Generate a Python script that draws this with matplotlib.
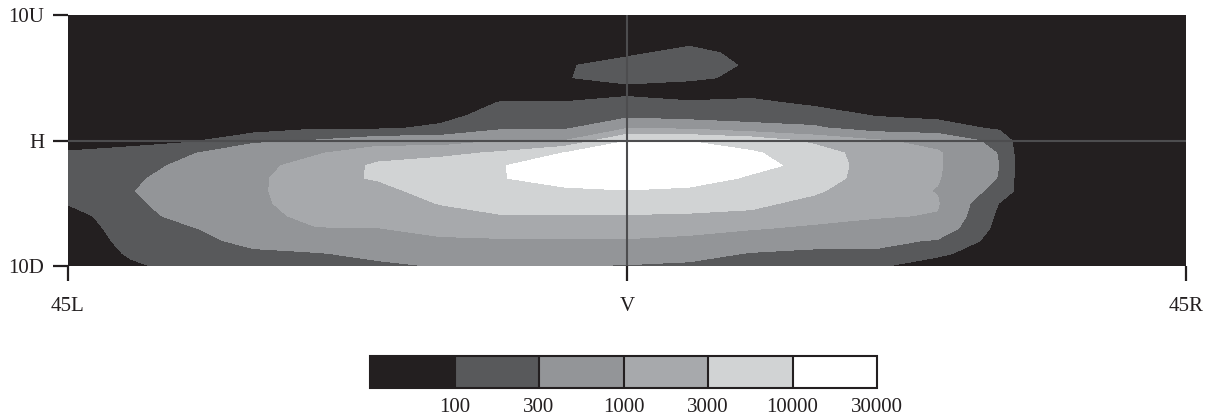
import numpy as np
import matplotlib
matplotlib.use('Agg')
from matplotlib import pyplot as plt

# measuring screen grid, degrees (left/right, up/down)
h_deg = [-45, -40, -35, -30, -25, -20, -15, -10, -5, 0, 5, 10, 15, 20, 25, 30, 35, 40, 45]
v_deg = [10, 9, 8, 7, 6, 5, 4, 3, 2, 1, 0, -1, -2, -3, -4, -5, -6, -7, -8, -9, -10]

# log10 of illuminance, one row per v_deg
log_lux = np.array([
    [1.65, 1.65, 1.65, 1.65, 1.65, 1.65, 1.65, 1.65, 1.65, 1.65, 1.65, 1.65, 1.65, 1.65, 1.65, 1.65, 1.65, 1.65, 1.65],
    [1.65, 1.65, 1.65, 1.65, 1.65, 1.65, 1.65, 1.65, 1.65, 1.70, 1.75, 1.70, 1.65, 1.65, 1.65, 1.65, 1.65, 1.65, 1.65],
    [1.65, 1.65, 1.65, 1.65, 1.65, 1.65, 1.65, 1.65, 1.70, 1.75, 1.85, 1.75, 1.70, 1.68, 1.65, 1.65, 1.65, 1.65, 1.65],
    [1.65, 1.65, 1.65, 1.65, 1.65, 1.65, 1.65, 1.68, 1.80, 1.90, 2.15, 1.85, 1.75, 1.70, 1.68, 1.65, 1.65, 1.65, 1.65],
    [1.65, 1.65, 1.65, 1.65, 1.65, 1.65, 1.68, 1.70, 1.95, 2.20, 2.25, 1.93, 1.78, 1.73, 1.70, 1.68, 1.65, 1.65, 1.65],
    [1.65, 1.65, 1.65, 1.65, 1.65, 1.65, 1.70, 1.75, 1.97, 2.20, 2.08, 1.90, 1.80, 1.75, 1.73, 1.70, 1.65, 1.65, 1.65],
    [1.65, 1.65, 1.65, 1.65, 1.65, 1.65, 1.73, 1.80, 1.90, 1.80, 1.75, 1.85, 1.83, 1.78, 1.75, 1.73, 1.65, 1.65, 1.65],
    [1.65, 1.65, 1.65, 1.65, 1.65, 1.65, 1.75, 2.03, 2.01, 2.20, 2.05, 2.08, 1.93, 1.85, 1.80, 1.75, 1.65, 1.65, 1.65],
    [1.65, 1.65, 1.65, 1.65, 1.75, 1.75, 1.85, 2.20, 2.20, 2.35, 2.25, 2.25, 2.18, 1.98, 1.90, 1.80, 1.65, 1.65, 1.65],
    [1.65, 1.70, 1.75, 1.75, 1.95, 1.93, 2.08, 2.40, 2.40, 2.95, 2.90, 2.65, 2.55, 2.23, 2.18, 1.93, 1.65, 1.65, 1.65],
    [1.75, 1.90, 1.93, 2.38, 2.50, 2.75, 2.75, 3.00, 3.00, 3.98, 3.98, 3.80, 3.35, 3.05, 2.85, 2.30, 0.75, 1.65, 1.65],
    [2.05, 2.10, 2.45, 2.80, 2.95, 3.30, 3.35, 3.55, 4.02, 4.35, 4.30, 4.05, 3.78, 3.18, 3.05, 2.45, 0.50, 1.65, 1.65],
    [2.20, 2.25, 2.63, 2.85, 3.20, 3.55, 3.73, 3.98, 4.30, 4.45, 4.35, 4.15, 3.85, 3.20, 3.05, 2.47, 0.50, 1.65, 1.65],
    [2.25, 2.38, 2.73, 2.90, 3.30, 3.53, 3.80, 3.98, 4.25, 4.35, 4.25, 3.93, 3.78, 3.20, 3.03, 2.45, 0.50, 1.65, 1.65],
    [2.20, 2.45, 2.75, 2.90, 3.33, 3.30, 3.73, 3.90, 3.90, 3.98, 3.90, 3.75, 3.55, 3.18, 2.98, 2.30, 1.00, 1.65, 1.65],
    [2.03, 2.38, 2.73, 2.88, 3.28, 3.23, 3.50, 3.75, 3.68, 3.73, 3.65, 3.58, 3.35, 3.13, 3.03, 1.98, 1.50, 1.65, 1.65],
    [1.80, 2.30, 2.65, 2.83, 3.15, 3.15, 3.30, 3.45, 3.45, 3.45, 3.43, 3.38, 3.15, 3.03, 2.98, 1.90, 1.65, 1.65, 1.65],
    [1.70, 2.23, 2.45, 2.75, 2.98, 2.99, 3.13, 3.20, 3.23, 3.23, 3.15, 3.03, 2.93, 2.88, 2.80, 1.85, 1.65, 1.65, 1.65],
    [1.65, 2.15, 2.35, 2.60, 2.75, 2.80, 2.93, 2.95, 2.95, 2.95, 2.88, 2.75, 2.65, 2.60, 2.43, 1.80, 1.65, 1.65, 1.65],
    [1.65, 2.05, 2.25, 2.40, 2.45, 2.58, 2.70, 2.70, 2.70, 2.70, 2.63, 2.45, 2.38, 2.40, 2.08, 1.75, 1.65, 1.65, 1.65],
    [1.65, 1.93, 2.15, 2.25, 2.30, 2.40, 2.50, 2.50, 2.48, 2.45, 2.40, 2.25, 2.15, 2.05, 1.80, 1.70, 1.65, 1.65, 1.65],
])

# iso-lux bands and legend
lux_levels = [100, 300, 1000, 3000, 10000, 30000]
lux_labels = ['100', '300', '1000', '3000', '10000', '30000']
band_colors = ['#231f20', '#58595b', '#939598', '#a7a9ac', '#d1d3d4', '#ffffff']

x_ticks = [-45, 0, 45]
x_labels = ['45L', 'V', '45R']
y_ticks = [-10, 0, 10]
y_labels = ['10D', 'H', '10U']

plt.rcParams['font.family'] = ['Liberation Serif', 'DejaVu Serif']
ink = '#231f20'

fig = plt.figure(figsize=(12.2, 4.18), dpi=100)
ax = fig.add_axes([0.0557, 0.3636, 0.9164, 0.6005])

levels = [0.0] + list(np.log10(lux_levels))
cs = ax.contourf(h_deg, v_deg, log_lux, levels=levels, colors=band_colors)

# H-V cross
ax.axhline(0, color='#4d4d4f', lw=1.5)
ax.axvline(0, color='#4d4d4f', lw=1.5)

ax.set_xlim(-45, 45)
ax.set_ylim(-10, 10)
ax.set_xticks(x_ticks)
ax.set_xticklabels(x_labels)
ax.set_yticks(y_ticks)
ax.set_yticklabels(y_labels)
ax.tick_params(direction='out', length=11, width=1.6, labelsize=15,
               color=ink, labelcolor=ink)
ax.tick_params(axis='x', pad=11)
ax.tick_params(axis='y', pad=6)
for s in ax.spines.values():
    s.set_visible(False)

# legend strip
cax = fig.add_axes([0.3033, 0.0718, 0.4156, 0.0766])
cb = fig.colorbar(cs, cax=cax, orientation='horizontal', ticks=levels[1:], drawedges=True)
cb.set_ticklabels(lux_labels)
cb.outline.set_edgecolor(ink)
cb.outline.set_linewidth(1.5)
cb.dividers.set_color(ink)
cb.dividers.set_linewidth(1.5)
cax.tick_params(length=0, labelsize=15, pad=7, labelcolor=ink)

fig.savefig('out.png', dpi=100)
